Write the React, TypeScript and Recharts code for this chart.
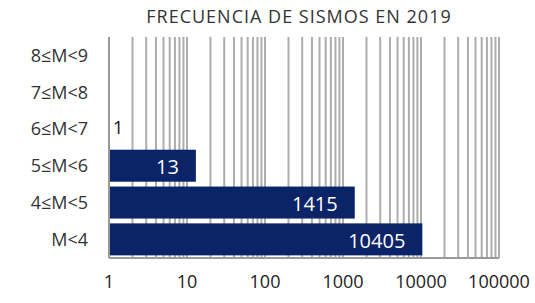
import { BarChart, Bar, XAxis, YAxis, CartesianGrid } from "recharts";

const categories = ["8≤M<9", "7≤M<8", "6≤M<7", "5≤M<6", "4≤M<5", "M<4"];
const counts: (number | null)[] = [null, null, 1, 13, 1415, 10405];
const axisTicks = [1, 10, 100, 1000, 10000, 100000];
const minorSteps = [1, 2, 3, 4, 5, 6, 7, 8, 9];

const data = categories.map((name, i) => ({ name, value: counts[i] }));
const gridValues = axisTicks.flatMap((d) => (d === 100000 ? [d] : minorSteps.map((m) => m * d)));

const FONT = "'Open Sans', sans-serif";

// bar + its value label in one shape, so the zero-width bar (value 1) still gets its label
function BarWithLabel(props: any) {
  const { x, y, width, height, value, fill } = props;
  const v = Array.isArray(value) ? value[1] : value;
  if (v == null) return null;
  const cy = y + height / 2;
  return (
    <g>
      {width > 0 && <rect x={x} y={y} width={width} height={height} fill={fill} />}
      {width < 30 ? (
        <text x={x + 4} y={cy - 2} fill="#111" fontSize={18} fontFamily={FONT} dominantBaseline="central">
          {v}
        </text>
      ) : (
        <text
          x={x + width - 17}
          y={cy + 1}
          fill="#fff"
          fontSize={20}
          fontFamily={FONT}
          textAnchor="end"
          dominantBaseline="central"
        >
          {v}
        </text>
      )}
    </g>
  );
}

export default function App() {
  return (
    <div style={{ position: "absolute", left: 0, top: 0, width: 535, height: 303, background: "#fff" }}>
      <div
        style={{
          position: "absolute",
          left: 0,
          width: 598,
          top: 4,
          textAlign: "center",
          fontFamily: FONT,
          fontSize: 18,
          color: "#333",
          letterSpacing: 1,
        }}
      >
        FRECUENCIA DE SISMOS EN 2019
      </div>
      <BarChart
        width={535}
        height={303}
        data={data}
        layout="vertical"
        margin={{ top: 37, right: 36, bottom: 0, left: 0 }}
        barCategoryGap="6%"
      >
        <CartesianGrid horizontal={false} verticalValues={gridValues} stroke="#adadad" strokeWidth={2} />
        <XAxis
          type="number"
          scale="log"
          domain={[1, 100000]}
          ticks={axisTicks}
          allowDataOverflow
          height={45}
          tickLine={false}
          tickSize={0}
          tickMargin={17}
          axisLine={{ stroke: "#999", strokeWidth: 2 }}
          tick={{ fill: "#222", fontSize: 18, fontFamily: FONT }}
          interval={0}
        />
        <YAxis
          type="category"
          dataKey="name"
          width={109}
          tickLine={false}
          tickSize={0}
          tickMargin={21}
          axisLine={{ stroke: "#999", strokeWidth: 2 }}
          tick={{ fill: "#333", fontSize: 18, fontFamily: FONT }}
          interval={0}
        />
        <Bar dataKey="value" fill="#0b2367" isAnimationActive={false} shape={BarWithLabel} />
      </BarChart>
    </div>
  );
}
